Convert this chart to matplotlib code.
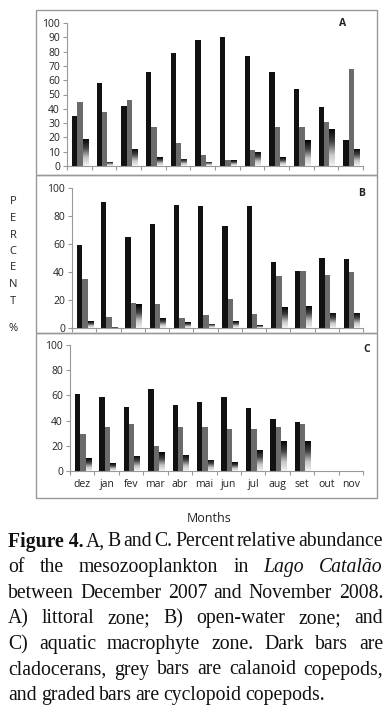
import numpy as np
import matplotlib
matplotlib.use("Agg")
import matplotlib.pyplot as plt
from matplotlib.patches import Rectangle
from matplotlib.colors import LinearSegmentedColormap

months = ["dez", "jan", "fev", "mar", "abr", "mai", "jun", "jul", "aug", "set", "out", "nov"]

a_clad = [35, 58, 42, 66, 79, 88, 90, 77, 66, 54, 41, 18]
a_cal = [45, 38, 46, 27, 16, 8, 4, 11, 27, 27, 31, 68]
a_cyc = [19, 3, 12, 6, 5, 3, 4, 10, 6, 18, 26, 12]

b_clad = [59, 90, 65, 74, 88, 87, 73, 87, 47, 41, 50, 49]
b_cal = [35, 8, 18, 17, 7, 9, 21, 10, 37, 41, 38, 40]
b_cyc = [5, 0.5, 17, 7, 4, 3, 5, 2, 15, 16, 11, 11]

c_clad = [61, 59, 51, 65, 52, 55, 59, 50, 41, 39, np.nan, np.nan]
c_cal = [29, 35, 37, 20, 35, 35, 33, 33, 35, 37, np.nan, np.nan]
c_cyc = [10, 6, 12, 15, 13, 9, 7, 17, 24, 24, np.nan, np.nan]

panel_labels = ["A", "B", "C"]

W, H = 390, 715
fig = plt.figure(figsize=(W / 100, H / 100), dpi=100)

def fx(px):
    return px / W

def fy(py):
    return 1 - py / H

axfont = "Open Sans"
grey_edge = "#999999"

# panel frames
for (y0, y1) in [(10, 175), (175, 333), (333, 498)]:
    fig.patches.append(Rectangle((fx(36), fy(y1)), fx(377) - fx(36), fy(y0) - fy(y1),
                                 transform=fig.transFigure, fill=False,
                                 edgecolor=grey_edge, linewidth=1.0))

cmap = LinearSegmentedColormap.from_list(
    "grad", [(0.0, "#f2f2f2"), (0.3, "#c8c8c8"), (0.65, "#404040"), (1.0, "#000000")])
grad = np.linspace(0, 1, 256).reshape(-1, 1)

panels = [
    (a_clad, a_cal, a_cyc, (67, 23, 363, 166), np.arange(0, 101, 10), (343, 23), False),
    (b_clad, b_cal, b_cyc, (72, 188, 363, 328), np.arange(0, 101, 20), (362, 193), False),
    (c_clad, c_cal, c_cyc, (70, 345, 363, 471), np.arange(0, 101, 20), (367, 349), True),
]

x = np.arange(len(months))
bw = 0.22
for i, (clad, cal, cyc, (l, t, r, b), yt, (lx, ly), show_x) in enumerate(panels):
    ax = fig.add_axes([fx(l), fy(b), fx(r) - fx(l), fy(t) - fy(b)])
    ax.bar(x - bw + 0.03, clad, bw, color="#111111", zorder=2)
    ax.bar(x + 0.03, cal, bw, color="#6b6b6b", zorder=2)
    cyc_bars = ax.bar(x + bw + 0.03, cyc, bw, color="none", zorder=2)
    for rect in cyc_bars:
        h = rect.get_height()
        if not np.isfinite(h) or h <= 0:
            continue
        x0 = rect.get_x()
        im = ax.imshow(grad, cmap=cmap, aspect="auto", origin="lower",
                       extent=[x0, x0 + rect.get_width(), 0, h], zorder=3)
        im.set_clip_path(rect)
    ax.set_xlim(-0.5, len(months) - 0.5)
    ax.set_ylim(0, 100)
    ax.set_yticks(yt)
    ax.set_xticks(np.arange(-0.5, len(months) + 0.5, 1))
    ax.set_xticklabels([])
    if show_x:
        ax.set_xticks(x, minor=True)
        ax.set_xticklabels(months, minor=True, fontsize=7.5, family=axfont, color="#222222")
        ax.tick_params(axis="x", which="minor", length=0, pad=6)
    for s in ["top", "right"]:
        ax.spines[s].set_visible(False)
    for s in ["left", "bottom"]:
        ax.spines[s].set_color(grey_edge)
        ax.spines[s].set_linewidth(0.8)
    ax.tick_params(axis="y", which="major", length=3, color=grey_edge, labelsize=7.5,
                   labelcolor="#222222", pad=2)
    ax.tick_params(axis="x", which="major", length=3, color=grey_edge)
    for lab in ax.get_yticklabels():
        lab.set_family(axfont)
    ax.patch.set_alpha(0)
    fig.text(fx(lx), fy(ly), panel_labels[i], fontsize=7.5, fontweight="bold",
             family=axfont, ha="center", va="center", color="#222222")

# vertical PERCENT label
for j, ch in enumerate("PERCENT"):
    fig.text(fx(13), fy(202 + j * 16.5), ch, fontsize=8, family=axfont,
             ha="center", va="center", color="#222222")
fig.text(fx(13), fy(329), "%", fontsize=8, family=axfont, ha="center", va="center",
         color="#222222")

fig.text(fx(209), fy(518), "Months", fontsize=9, family=axfont, ha="center",
         va="center", color="#222222")

# caption with full justification
serif = "Liberation Serif"
cap_lines = [
    [("Figure 4.", "bold"), ("A,", ""), ("B", ""), ("and", ""), ("C.", ""), ("Percent", ""),
     ("relative", ""), ("abundance", "")],
    [("of", ""), ("the", ""), ("mesozooplankton", ""), ("in", ""), ("Lago", "italic"),
     ("Catalão", "italic")],
    [("between", ""), ("December", ""), ("2007", ""), ("and", ""), ("November", ""),
     ("2008.", "")],
    [("A)", ""), ("littoral", ""), ("zone;", ""), ("B)", ""), ("open-water", ""),
     ("zone;", ""), ("and", "")],
    [("C)", ""), ("aquatic", ""), ("macrophyte", ""), ("zone.", ""), ("Dark", ""),
     ("bars", ""), ("are", "")],
    [("cladocerans,", ""), ("grey", ""), ("bars", ""), ("are", ""), ("calanoid", ""),
     ("copepods,", "")],
    [("and", ""), ("graded", ""), ("bars", ""), ("are", ""), ("cyclopoid", ""),
     ("copepods.", "")],
]
cap_fs = 14.2
left_px, right_px = 8, 383
fig.canvas.draw()
renderer = fig.canvas.get_renderer()
for li, words in enumerate(cap_lines):
    ypx = 542 + li * 25.6
    texts = []
    for w, style in words:
        kw = dict(fontsize=cap_fs, family=serif, va="center", ha="left", color="#111111")
        if style == "bold":
            kw["fontweight"] = "bold"
        if style == "italic":
            kw["fontstyle"] = "italic"
        texts.append(fig.text(0, fy(ypx), w, **kw))
    widths = [t.get_window_extent(renderer).width for t in texts]
    total = sum(widths)
    last = li == len(cap_lines) - 1
    gap = (right_px - left_px - total) / (len(words) - 1)
    if last:
        gap = min(gap, 4.0)
    gap = max(gap, 1.5)
    xpos = left_px
    for t, w in zip(texts, widths):
        t.set_x(fx(xpos))
        xpos += w + gap

fig.savefig("out.png", dpi=100)
